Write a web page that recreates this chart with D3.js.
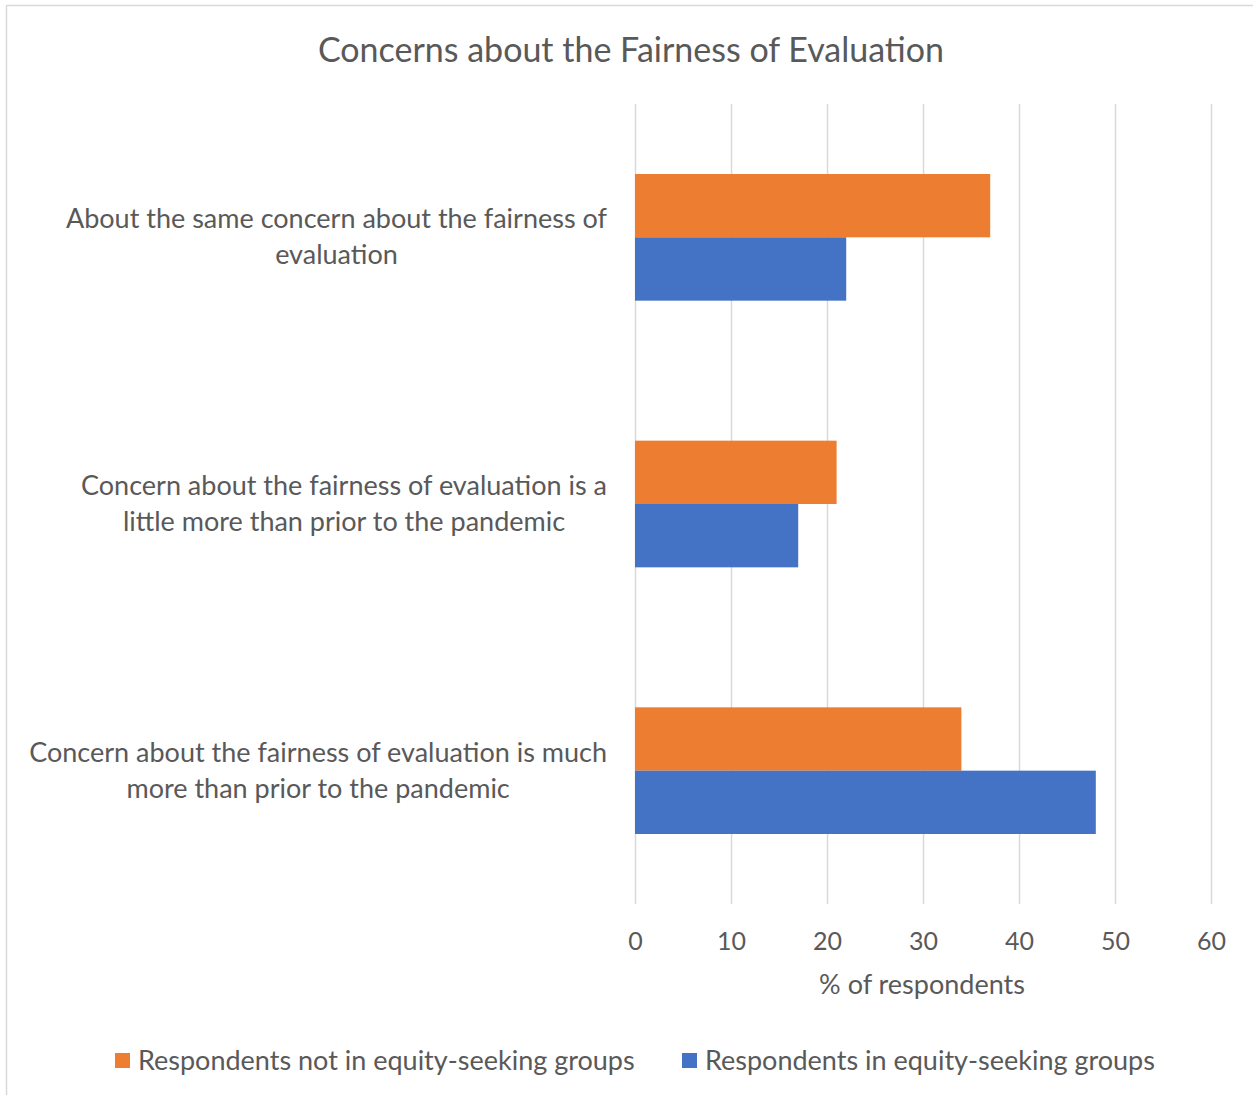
<!DOCTYPE html>
<html>
<head>
<meta charset="utf-8">
<script src="https://cdn.jsdelivr.net/npm/d3@7"></script>
<style>
html,body{margin:0;padding:0;background:#fff;}
svg{display:block;}
text{font-family:Lato,"Open Sans",sans-serif;fill:#595959;}
</style>
</head>
<body>
<svg id="chart" width="1253" height="1095"></svg>
<script>
const title = "Concerns about the Fairness of Evaluation";
const categories = [
  ["About the same concern about the fairness of", "evaluation"],
  ["Concern about the fairness of evaluation is a", "little more than prior to the pandemic"],
  ["Concern about the fairness of evaluation is much", "more than prior to the pandemic"]
];
const seriesNames = ["Respondents not in equity-seeking groups", "Respondents in equity-seeking groups"];
const seriesColors = ["#ED7D31", "#4472C4"];
const notInGroups = [37, 21, 34];
const inGroups = [22, 17, 48];
const xTicks = [0, 10, 20, 30, 40, 50, 60];
const xTitle = "% of respondents";

const FONT = "Lato,'Open Sans',sans-serif";
const svg = d3.select("#chart");
svg.append("rect").attr("x",6.5).attr("y",5.5).attr("width",1270).attr("height",1110)
  .attr("fill","#fff").attr("stroke","#D9D9D9").attr("stroke-width",1.5);

const plot = {left:635, right:1211, top:104, bottom:904};
const x = d3.scaleLinear().domain([0,60]).range([plot.left, plot.right]);
const y = d3.scaleBand().domain(d3.range(categories.length)).range([plot.top, plot.bottom])
  .paddingInner(0.525).paddingOuter(0.2625);
const ys = d3.scaleBand().domain([0,1]).range([0, y.bandwidth()]);

// title
svg.append("text").attr("x",631).attr("y",62).attr("text-anchor","middle")
  .style("font-size","34px").text(title);

// gridlines
svg.append("g").selectAll("line").data(xTicks).join("line")
  .attr("x1",d=>x(d)+0.5).attr("x2",d=>x(d)+0.5)
  .attr("y1",plot.top).attr("y2",plot.bottom)
  .attr("stroke","#D9D9D9").attr("stroke-width",1.5);

// bars
const data = categories.map((c,i)=>[notInGroups[i], inGroups[i]]);
const g = svg.append("g");
data.forEach((vals,i)=>{
  vals.forEach((v,s)=>{
    g.append("rect").attr("x",x(0)).attr("y",y(i)+ys(s))
      .attr("width",x(v)-x(0)).attr("height",ys.bandwidth())
      .attr("fill",seriesColors[s]);
  });
});

// x axis labels
const xAxis = d3.axisBottom(x).tickValues(xTicks).tickSize(0).tickPadding(0);
const ax = svg.append("g").attr("transform",`translate(0,950)`).call(xAxis);
ax.select(".domain").remove();
ax.selectAll("text").attr("dy",0).attr("y",0).style("font-size","25px").style("fill","#595959")
  .style("font-family",FONT);

svg.append("text").attr("x",922).attr("y",994).attr("text-anchor","middle")
  .style("font-size","27px").text(xTitle);

// category labels (centered block, right edge of widest line at 607)
const LBL = "27px";
categories.forEach((lines,i)=>{
  const cy = y(i)+y.bandwidth()/2;
  const t = svg.append("text").style("font-size",LBL).attr("text-anchor","middle");
  const tmp = lines.map(l=>{
    const tt = svg.append("text").style("font-size",LBL).text(l);
    const w = tt.node().getComputedTextLength(); tt.remove(); return w;
  });
  const maxW = d3.max(tmp);
  const cx = 607 - maxW/2;
  lines.forEach((l,k)=>{
    t.append("tspan").attr("x",cx).attr("y",cy - 9 + (k)*36 ).text(l);
  });
});

// legend
const legend = svg.append("g");
const legX = [115, 682];
seriesNames.forEach((n,s)=>{
  legend.append("rect").attr("x",legX[s]).attr("y",1053).attr("width",15).attr("height",15)
    .attr("fill",seriesColors[s]);
  legend.append("text").attr("x",legX[s]+23).attr("y",1070).style("font-size","27px").text(n);
});
</script>
</body>
</html>
